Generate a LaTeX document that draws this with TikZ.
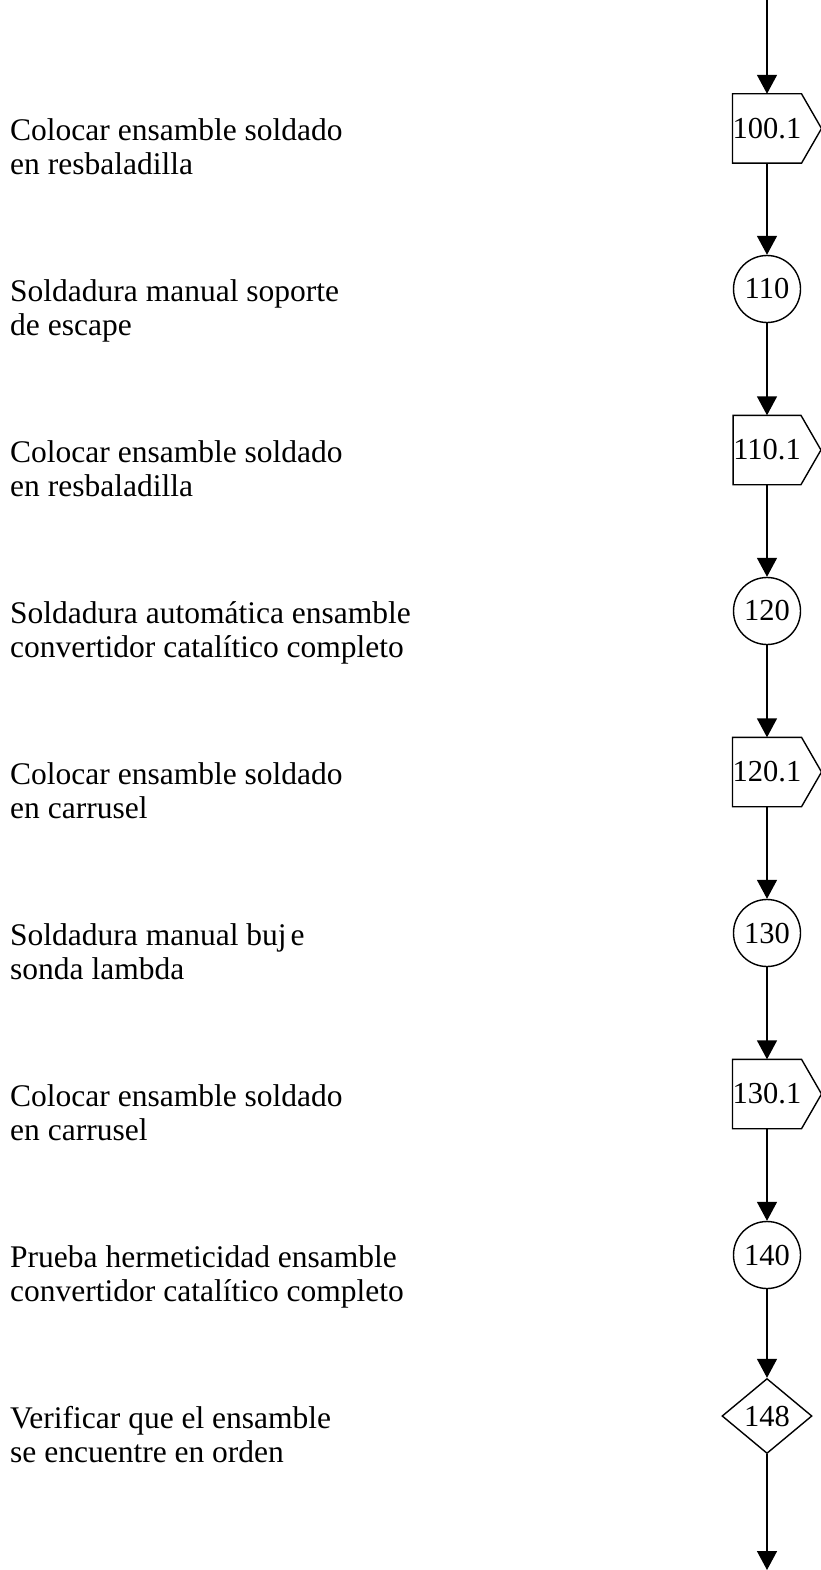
\documentclass[tikz,border=0pt]{standalone}
\usepackage{fontspec}
\setmainfont{Liberation Serif}
\usetikzlibrary{arrows.meta,shapes.geometric}
\begin{document}
\begin{tikzpicture}[x=1pt,y=-1pt,
  lbl/.style={anchor=north west, align=left, inner sep=0pt, font=\fontsize{31.5}{34}\selectfont},
  pentbox/.style={rectangle, minimum width=67pt, minimum height=69pt, inner sep=0pt, font=\fontsize{30.5}{34}\selectfont},
  opcirc/.style={circle, draw, line width=1.4pt, minimum size=67pt, inner sep=0pt, font=\fontsize{30.5}{34}\selectfont},
  decis/.style={diamond, draw, line width=1.4pt, minimum width=90pt, minimum height=75pt, inner sep=0pt, font=\fontsize{30.5}{34}\selectfont},
  flow/.style={line width=1.5pt, -{Triangle[width=20pt,length=19pt]}},
  pentline/.style={line width=1.4pt, line join=miter},
]
\useasboundingbox (0,0) rectangle (820,1570);

% left labels
\node[lbl] (t1) at (10,118.5) {Colocar ensamble soldado\\en resbaladilla};
\node[lbl] (t2) at (10,279.5) {Soldadura manual soporte\\de escape};
\node[lbl] (t3) at (10,440.5) {Colocar ensamble soldado\\en resbaladilla};
\node[lbl] (t4) at (10,601.5) {Soldadura automática ensamble\\convertidor catalítico completo};
\node[lbl] (t5) at (10,762.5) {Colocar ensamble soldado\\en carrusel};
\node[lbl] (t6) at (10,923.5) {Soldadura manual buj\kern4pt e\\sonda lambda};
\node[lbl] (t7) at (10,1084.5) {Colocar ensamble soldado\\en carrusel};
\node[lbl] (t8) at (10,1245.5) {Prueba hermeticidad ensamble\\convertidor catalítico completo};
\node[lbl] (t9) at (10,1406.5) {Verificar que el ensamble\\se encuentre en orden};

% flow nodes
\node[pentbox] (p1) at (767,128.5) {100.1};
\node[opcirc]  (c2) at (767,289) {110};
\node[pentbox] (p3) at (767,450) {110.1};
\node[opcirc]  (c4) at (767,611) {120};
\node[pentbox] (p5) at (767,772) {120.1};
\node[opcirc]  (c6) at (767,933) {130};
\node[pentbox] (p7) at (767,1094) {130.1};
\node[opcirc]  (c8) at (767,1255) {140};
\node[decis]   (d9) at (767,1416) {148};

\foreach \p in {p1,p3,p5,p7}{
  \draw[pentline] (\p.north west) -- (\p.north east) -- ([xshift=20pt]\p.east) -- (\p.south east) -- (\p.south west) -- cycle;
}

\coordinate (top) at (767,0);
\coordinate (bot) at (767,1570);
\draw[flow] (top) -- (p1.north);
\draw[flow] (p1.south) -- (c2.north);
\draw[flow] (c2.south) -- (p3.north);
\draw[flow] (p3.south) -- (c4.north);
\draw[flow] (c4.south) -- (p5.north);
\draw[flow] (p5.south) -- (c6.north);
\draw[flow] (c6.south) -- (p7.north);
\draw[flow] (p7.south) -- (c8.north);
\draw[flow] (c8.south) -- (d9.north);
\draw[flow] (d9.south) -- (bot);
\end{tikzpicture}
\end{document}
